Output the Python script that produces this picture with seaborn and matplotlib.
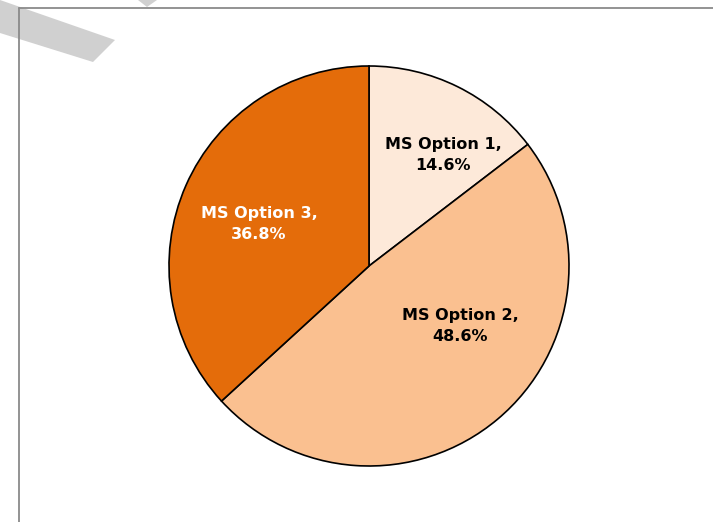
import matplotlib
matplotlib.use("Agg")
import matplotlib.pyplot as plt
import seaborn as sns
from matplotlib.lines import Line2D
from matplotlib.patches import Polygon

# data
labels = ["MS Option 1", "MS Option 2", "MS Option 3"]
shares = [14.6, 48.6, 36.8]
colors = ["#FDE9D9", "#FAC090", "#E46C0A"]
text_colors = ["black", "black", "white"]
# label anchor points inside the pie (radius units)
label_pos = [(0.37, 0.555), (0.455, -0.30), (-0.55, 0.21)]

sns.set_theme(style="white")
plt.rcParams["font.family"] = ["DejaVu Sans"]

W, H = 713, 522
fig = plt.figure(figsize=(W / 100, H / 100), dpi=100)
fig.patch.set_facecolor("white")

# pie axes: centre (369, 266), radius 200 px
cx, cy, r = 369, 266, 200
pad = 1.02
ax = fig.add_axes([(cx - r * pad) / W, (H - cy - r * pad) / H, 2 * r * pad / W, 2 * r * pad / H])

ax.pie(shares, colors=colors, startangle=90, counterclock=False,
       wedgeprops=dict(edgecolor="black", linewidth=1.2))
ax.set_xlim(-pad, pad)
ax.set_ylim(-pad, pad)
ax.set_aspect("equal")
ax.axis("off")

for lab, val, (x, y), tc in zip(labels, shares, label_pos, text_colors):
    ax.text(x, y, f"{lab},\n{val:.1f}%", ha="center", va="center",
            fontsize=11.5, fontweight="bold", color=tc, linespacing=1.5)

# frame lines of the chart area
fig.add_artist(Line2D([19 / W, 1], [1 - 8 / H, 1 - 8 / H], color="#8a8a8a", lw=1.3))
fig.add_artist(Line2D([19 / W, 19 / W], [0, 1 - 8 / H], color="#8a8a8a", lw=1.3))

# grey watermark pieces at the top-left
band = [(0, 0), (115, 40), (93, 62), (0, 33)]
fig.add_artist(Polygon([(x / W, 1 - y / H) for x, y in band], closed=True,
                       facecolor="#d0d0d0", edgecolor="none", zorder=-1))
tri = [(138, 0), (157, 0), (147, 7)]
fig.add_artist(Polygon([(x / W, 1 - y / H) for x, y in tri], closed=True,
                       facecolor="#d0d0d0", edgecolor="none", zorder=-1))

fig.savefig("out.png", dpi=100)
